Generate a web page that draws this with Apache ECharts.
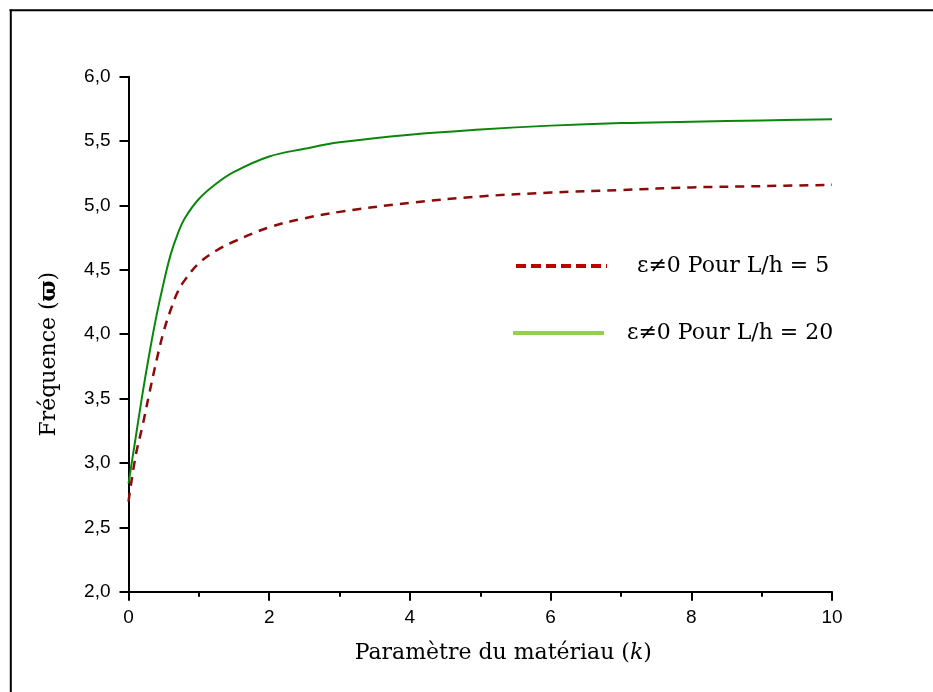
<!DOCTYPE html>
<html>
<head>
<meta charset="utf-8">
<script src="https://cdn.jsdelivr.net/npm/echarts@6/dist/echarts.min.js"></script>
<style>
  html, body { margin: 0; padding: 0; background: #fff; }
  #chart { width: 933px; height: 692px; }
</style>
</head>
<body>
<div id="chart"></div>
<script>
// parametre du materiau k
const kValues = [0, 0.1, 0.2, 0.3, 0.4, 0.5, 0.6, 0.7, 0.8, 1.0, 1.25, 1.5, 2, 2.5, 3, 4, 5, 6, 7, 8, 9, 10]
// L/h = 5
const freqLh5 = [2.70, 3.05, 3.29, 3.55, 3.80, 4.02, 4.19, 4.33, 4.42, 4.55, 4.65, 4.72, 4.83, 4.90, 4.95, 5.02, 5.07, 5.10, 5.12, 5.14, 5.15, 5.16]
// L/h = 20
const freqLh20 = [2.84, 3.19, 3.54, 3.86, 4.15, 4.40, 4.62, 4.78, 4.90, 5.05, 5.17, 5.26, 5.38, 5.44, 5.49, 5.55, 5.59, 5.62, 5.64, 5.65, 5.66, 5.67]
const xTicks = [0, 2, 4, 6, 8, 10]
const yTicks = [2.0, 2.5, 3.0, 3.5, 4.0, 4.5, 5.0, 5.5, 6.0]

const serif = 'DejaVu Serif'
const sans = 'Liberation Sans'

let chart = echarts.init(document.getElementById('chart'))

const pairs = (xs, ys) => xs.map((x, i) => [x, ys[i]])

let option = {
  animation: false,
  backgroundColor: '#fff',
  grid: {
    left: 128.5,
    right: 101,
    top: 76.7,
    bottom: 100.3
  },
  xAxis: {
    type: 'value',
    min: xTicks[0],
    max: xTicks[xTicks.length - 1],
    interval: 2,
    axisLine: { lineStyle: { color: '#000', width: 2 } },
    axisTick: { length: 9, lineStyle: { color: '#000', width: 2 } },
    minorTick: { show: true, splitNumber: 2, length: 5, lineStyle: { color: '#000', width: 2 } },
    splitLine: { show: false },
    axisLabel: { color: '#000', fontFamily: sans, fontSize: 19, margin: 17 },
    name: '{n|Paramètre du matériau (}{k|k}{n|)}',
    nameLocation: 'middle',
    nameGap: 51,
    nameTextStyle: {
      padding: [0, 0, 0, 46],
      rich: {
        n: { fontFamily: serif, fontSize: 22, color: '#000' },
        k: { fontFamily: serif, fontSize: 22, fontStyle: 'italic', color: '#000' }
      }
    }
  },
  yAxis: {
    type: 'value',
    min: yTicks[0],
    max: yTicks[yTicks.length - 1],
    interval: 0.5,
    axisLine: { show: true, lineStyle: { color: '#000', width: 2 } },
    axisTick: { show: true, length: 9, lineStyle: { color: '#000', width: 2 } },
    splitLine: { show: false },
    axisLabel: {
      color: '#000',
      fontFamily: sans,
      fontSize: 19,
      margin: 18,
      formatter: v => v.toFixed(1).replace('.', ',')
    },
    name: '{n|Fréquence (}{w|ϖ}{n|)}',
    nameLocation: 'middle',
    nameGap: 68,
    nameTextStyle: {
      padding: [0, 40, 0, 0],
      rich: {
        n: { fontFamily: serif, fontSize: 22, color: '#000' },
        w: { fontFamily: serif, fontSize: 22, fontWeight: 'bold', color: '#000' }
      }
    }
  },
  legend: [
    {
      left: 514,
      top: 255,
      padding: 0,
      itemWidth: 91,
      itemHeight: 14,
      textStyle: { fontFamily: serif, fontSize: 22, color: '#000', padding: [0, 0, 0, 25] },
      data: [{
        name: 'ε≠0 Pour L/h = 5',
        itemStyle: { opacity: 0 },
        lineStyle: { color: '#c00000', width: 4, type: [10, 5], opacity: 1 }
      }]
    },
    {
      left: 511,
      top: 322,
      padding: 0,
      itemWidth: 91,
      itemHeight: 14,
      textStyle: { fontFamily: serif, fontSize: 22, color: '#000', padding: [0, 0, 0, 18] },
      data: [{
        name: 'ε≠0 Pour L/h = 20',
        itemStyle: { opacity: 0 },
        lineStyle: { color: '#92d050', width: 4, type: 'solid', opacity: 1 }
      }]
    }
  ],
  series: [
    {
      name: 'ε≠0 Pour L/h = 5',
      type: 'line',
      smooth: 0.4,
      showSymbol: false,
      symbol: 'none',
      data: pairs(kValues, freqLh5),
      lineStyle: { color: '#8b0a0a', width: 2.5, type: [9, 7] },
      itemStyle: { color: '#8b0a0a' }
    },
    {
      name: 'ε≠0 Pour L/h = 20',
      type: 'line',
      smooth: 0.4,
      showSymbol: false,
      symbol: 'none',
      data: pairs(kValues, freqLh20),
      lineStyle: { color: '#0a870a', width: 2 },
      itemStyle: { color: '#0a870a' }
    }
  ],
  graphic: [
    { type: 'line', shape: { x1: 9.5, y1: 10.3, x2: 933, y2: 10.3 }, style: { stroke: '#000', lineWidth: 2 } },
    { type: 'line', shape: { x1: 10.8, y1: 9.5, x2: 10.8, y2: 692 }, style: { stroke: '#000', lineWidth: 2 } }
  ]
}

chart.setOption(option, true)
</script>
</body>
</html>
